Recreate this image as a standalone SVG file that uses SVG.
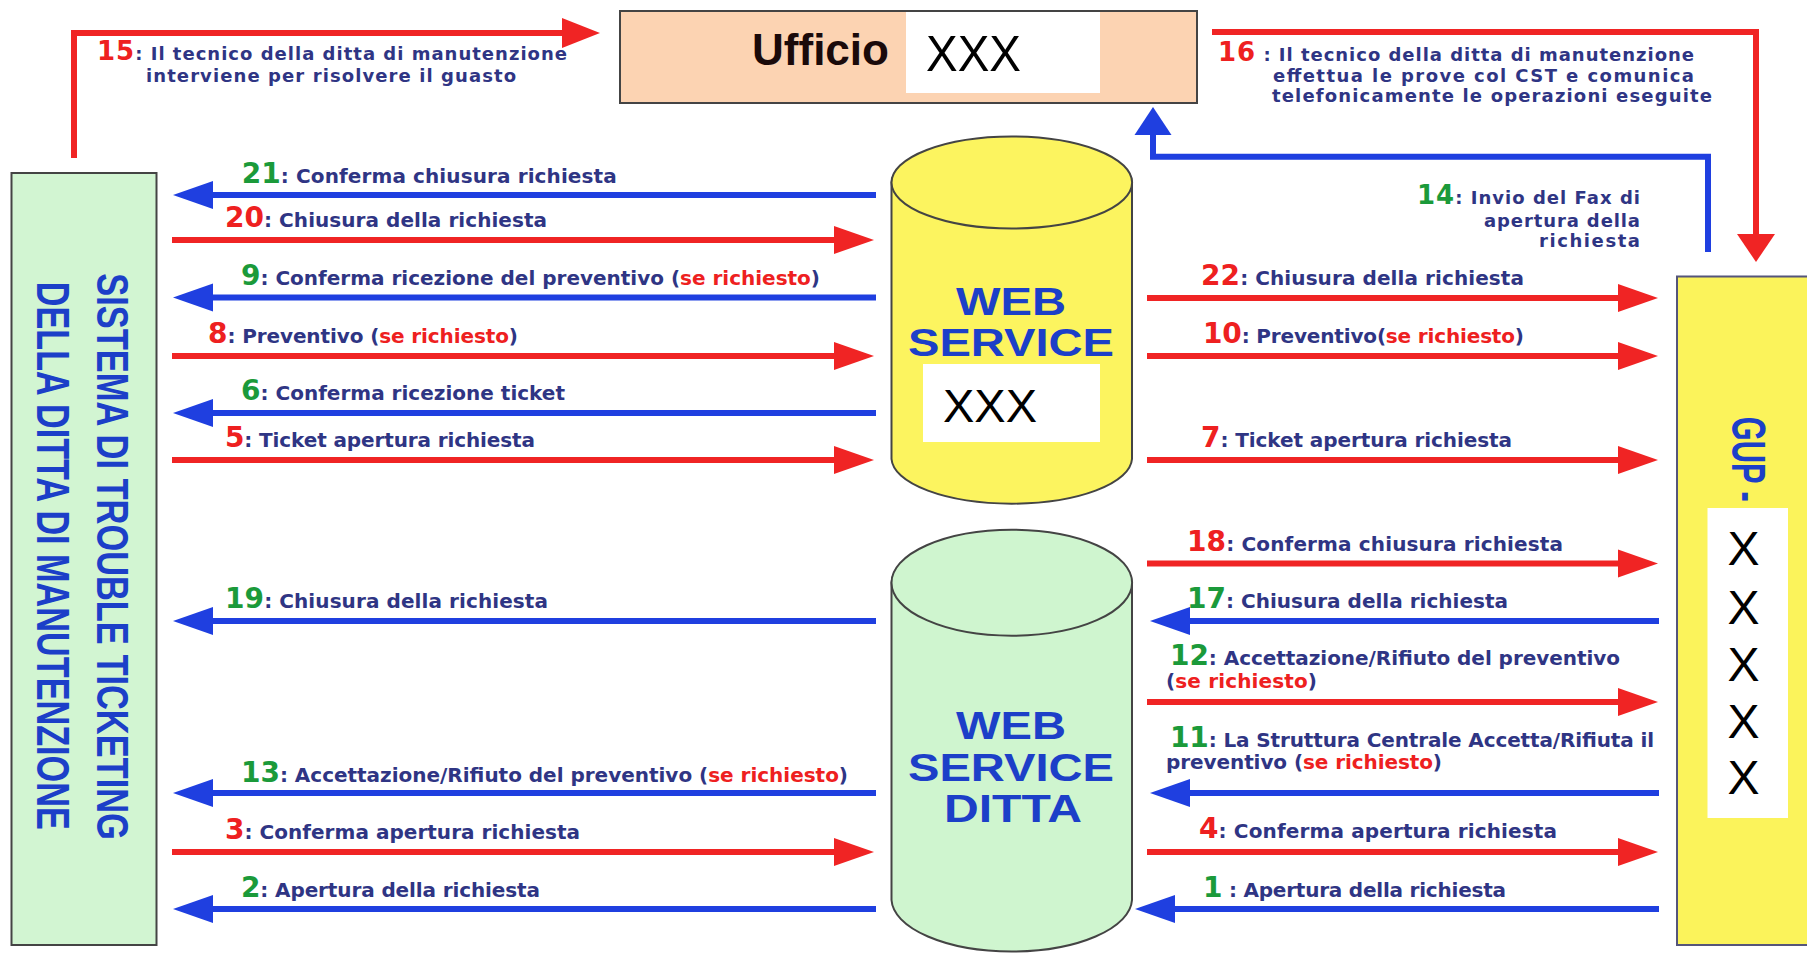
<svg xmlns="http://www.w3.org/2000/svg" width="1807" height="954" viewBox="0 0 1807 954">
<style>
.lbl{font-family:"DejaVu Sans",Verdana,sans-serif;font-weight:bold;font-size:20px;fill:#2f3584}
.sm{font-size:18px}
.nr{fill:#ee2020;font-size:28px}
.ng{fill:#1b9a3a;font-size:28px}
.n26{font-size:26px}
.sr{fill:#ee2020}
.ar{stroke:#f02424;stroke-width:6;fill:none}
.ab{stroke:#1f3fe0;stroke-width:6;fill:none}
.big{font-family:"Liberation Sans",Arial,sans-serif;font-weight:bold;fill:#1c3fc8}
.xxx{font-family:"Liberation Sans",Arial,sans-serif;fill:#000}
.box{stroke:#444;stroke-width:2}
</style>
<defs>
<marker id="hR" markerUnits="userSpaceOnUse" markerWidth="42" markerHeight="30" viewBox="0 -15 42 30" refX="1" refY="0" orient="auto"><path d="M0,-14 L40,0 L0,14 z" fill="#f02424"/></marker>
<marker id="hB" markerUnits="userSpaceOnUse" markerWidth="42" markerHeight="30" viewBox="0 -15 42 30" refX="1" refY="0" orient="auto"><path d="M0,-14 L40,0 L0,14 z" fill="#1f3fe0"/></marker>
<marker id="hR15" markerUnits="userSpaceOnUse" markerWidth="40" markerHeight="32" viewBox="0 -16 40 32" refX="1" refY="0" orient="auto"><path d="M0,-15 L38,0 L0,15 z" fill="#f02424"/></marker>
<marker id="hR16" markerUnits="userSpaceOnUse" markerWidth="30" markerHeight="40" viewBox="0 -20 30 40" refX="1" refY="0" orient="auto"><path d="M0,-19 L28,0 L0,19 z" fill="#f02424"/></marker>
<marker id="hB14" markerUnits="userSpaceOnUse" markerWidth="30" markerHeight="40" viewBox="0 -20 30 40" refX="1" refY="0" orient="auto"><path d="M0,-18.5 L28,0 L0,18.5 z" fill="#1f3fe0"/></marker>
</defs>
<rect width="1807" height="954" fill="#ffffff"/>

<g id="node-sistema">
<rect class="box" x="11.5" y="173" width="145" height="772" fill="#d2f5d2"/>
<text class="big" font-size="45" transform="translate(96.7,273.3) rotate(90) scale(0.765,1)">SISTEMA DI TROUBLE TICKETING</text>
<text class="big" font-size="46" transform="translate(36.7,281.7) rotate(90) scale(0.744,1)">DELLA DITTA DI MANUTENZIONE</text>
</g>

<g id="node-ufficio">
<rect class="box" x="620" y="11" width="577" height="92" fill="#fcd3b2"/>
<text x="752" y="65" font-family="Liberation Sans,Arial,sans-serif" font-weight="bold" font-size="45" fill="#1a0a0a" textLength="137" lengthAdjust="spacingAndGlyphs">Ufficio</text>
<rect x="906" y="12" width="194" height="81" fill="#ffffff"/>
<text class="xxx" x="926" y="71" font-size="50" textLength="95" lengthAdjust="spacingAndGlyphs">XXX</text>
</g>

<g id="node-webservice">
<path d="M891.5,182.5 L891.5,459 A120.3,46 0 0 0 1132,459 L1132,182.5 A120.3,46 0 0 0 891.5,182.5 z" fill="#fcf45f" stroke="#444" stroke-width="2"/>
<ellipse cx="1011.8" cy="182.5" rx="120.3" ry="46" fill="#fcf45f" stroke="#444" stroke-width="2"/>
<text class="big" x="1011" y="315" font-size="38" text-anchor="middle" textLength="110" lengthAdjust="spacingAndGlyphs">WEB</text>
<text class="big" x="1011" y="356" font-size="38" text-anchor="middle" textLength="206" lengthAdjust="spacingAndGlyphs">SERVICE</text>
<rect x="923" y="364" width="177" height="78" fill="#ffffff"/>
<text class="xxx" x="943" y="422" font-size="47" textLength="94" lengthAdjust="spacingAndGlyphs">XXX</text>
</g>

<g id="node-webservice-ditta">
<path d="M891.5,582.7 L891.5,900 A120.3,53 0 0 0 1132,900 L1132,582.7 A120.3,53 0 0 0 891.5,582.7 z" fill="#cff5cf" stroke="#444" stroke-width="2"/>
<ellipse cx="1011.8" cy="582.7" rx="120.3" ry="53" fill="#cff5cf" stroke="#444" stroke-width="2"/>
<text class="big" x="1011" y="739" font-size="38" text-anchor="middle" textLength="110" lengthAdjust="spacingAndGlyphs">WEB</text>
<text class="big" x="1011" y="781" font-size="38" text-anchor="middle" textLength="206" lengthAdjust="spacingAndGlyphs">SERVICE</text>
<text class="big" x="1013" y="822" font-size="38" text-anchor="middle" textLength="138" lengthAdjust="spacingAndGlyphs">DITTA</text>
</g>

<g id="node-gup">
<rect x="1677" y="276.5" width="140" height="668.5" fill="#fbf35b" stroke="#55557a" stroke-width="2"/>
<text class="big" font-size="49" transform="translate(1731.7,416.7) rotate(90) scale(0.63,1)">GUP -</text>
<rect x="1707.5" y="508" width="80.5" height="310" fill="#ffffff"/>
<g class="xxx" font-size="48">
<text x="1727.5" y="565">X</text>
<text x="1727.5" y="623.5">X</text>
<text x="1727.5" y="680.5">X</text>
<text x="1727.5" y="738">X</text>
<text x="1727.5" y="794">X</text>
</g>
</g>

<g id="connectors">
<path class="ar" d="M74,158 V33 H563" marker-end="url(#hR15)"/>
<path class="ar" d="M1212,32 H1756 V235" marker-end="url(#hR16)"/>
<path class="ab" d="M1708,252 V156.7 H1153 V134" stroke-linejoin="miter" marker-end="url(#hB14)"/>
<line class="ab" x1="876" y1="195" x2="212" y2="195" marker-end="url(#hB)"/>
<line class="ar" x1="172" y1="240" x2="835" y2="240" marker-end="url(#hR)"/>
<line class="ab" x1="876" y1="297.5" x2="212" y2="297.5" marker-end="url(#hB)"/>
<line class="ar" x1="172" y1="356" x2="835" y2="356" marker-end="url(#hR)"/>
<line class="ab" x1="876" y1="413" x2="212" y2="413" marker-end="url(#hB)"/>
<line class="ar" x1="172" y1="460" x2="835" y2="460" marker-end="url(#hR)"/>
<line class="ab" x1="876" y1="621" x2="212" y2="621" marker-end="url(#hB)"/>
<line class="ab" x1="876" y1="793" x2="212" y2="793" marker-end="url(#hB)"/>
<line class="ar" x1="172" y1="852" x2="835" y2="852" marker-end="url(#hR)"/>
<line class="ab" x1="876" y1="909" x2="212" y2="909" marker-end="url(#hB)"/>
<line class="ar" x1="1147" y1="298" x2="1619" y2="298" marker-end="url(#hR)"/>
<line class="ar" x1="1147" y1="356" x2="1619" y2="356" marker-end="url(#hR)"/>
<line class="ar" x1="1147" y1="460" x2="1619" y2="460" marker-end="url(#hR)"/>
<line class="ar" x1="1147" y1="563.5" x2="1619" y2="563.5" marker-end="url(#hR)"/>
<line class="ab" x1="1659" y1="621" x2="1189" y2="621" marker-end="url(#hB)"/>
<line class="ar" x1="1147" y1="702" x2="1619" y2="702" marker-end="url(#hR)"/>
<line class="ab" x1="1659" y1="793" x2="1189" y2="793" marker-end="url(#hB)"/>
<line class="ar" x1="1147" y1="852" x2="1619" y2="852" marker-end="url(#hR)"/>
<line class="ab" x1="1659" y1="909" x2="1174" y2="909" marker-end="url(#hB)"/>
</g>

<g id="labels">
<text class="lbl sm" x="97" y="60" textLength="470"><tspan class="nr n26">15</tspan>: Il tecnico della ditta di manutenzione</text>
<text class="lbl sm" x="146" y="82" textLength="370">interviene per risolvere il guasto</text>
<text class="lbl sm" x="1218" y="60.7" textLength="476"><tspan class="nr n26">16</tspan> : Il tecnico della ditta di manutenzione</text>
<text class="lbl sm" x="1273" y="81.7" textLength="421">effettua le prove col CST e comunica</text>
<text class="lbl sm" x="1272" y="101.7" textLength="440">telefonicamente le operazioni eseguite</text>
<text class="lbl sm" x="1640" y="203.5" text-anchor="end" textLength="223"><tspan class="ng n26">14</tspan>: Invio del Fax di</text>
<text class="lbl sm" x="1640" y="226.7" text-anchor="end" textLength="156">apertura della</text>
<text class="lbl sm" x="1640" y="247" text-anchor="end" textLength="101">richiesta</text>

<text class="lbl" x="241.7" y="182.5" textLength="375"><tspan class="ng">21</tspan>: Conferma chiusura richiesta</text>
<text class="lbl" x="225" y="226.7" textLength="322"><tspan class="nr">20</tspan>: Chiusura della richiesta</text>
<text class="lbl" x="241" y="285" textLength="579"><tspan class="ng">9</tspan>: Conferma ricezione del preventivo (<tspan class="sr">se richiesto</tspan>)</text>
<text class="lbl" x="208" y="342.7" textLength="310"><tspan class="nr">8</tspan>: Preventivo (<tspan class="sr">se richiesto</tspan>)</text>
<text class="lbl" x="241" y="400" textLength="324"><tspan class="ng">6</tspan>: Conferma ricezione ticket</text>
<text class="lbl" x="225" y="446.7" textLength="310"><tspan class="nr">5</tspan>: Ticket apertura richiesta</text>
<text class="lbl" x="225" y="607.7" textLength="323"><tspan class="ng">19</tspan>: Chiusura della richiesta</text>
<text class="lbl" x="241" y="781.7" textLength="607"><tspan class="ng">13</tspan>: Accettazione/Rifiuto del preventivo (<tspan class="sr">se richiesto</tspan>)</text>
<text class="lbl" x="225" y="839" textLength="355"><tspan class="nr">3</tspan>: Conferma apertura richiesta</text>
<text class="lbl" x="241" y="896.7" textLength="299"><tspan class="ng">2</tspan>: Apertura della richiesta</text>

<text class="lbl" x="1201" y="285" textLength="323"><tspan class="nr">22</tspan>: Chiusura della richiesta</text>
<text class="lbl" x="1203" y="342.7" textLength="321"><tspan class="nr">10</tspan>: Preventivo(<tspan class="sr">se richiesto</tspan>)</text>
<text class="lbl" x="1201" y="446.7" textLength="311"><tspan class="nr">7</tspan>: Ticket apertura richiesta</text>
<text class="lbl" x="1187" y="550.7" textLength="376"><tspan class="nr">18</tspan>: Conferma chiusura richiesta</text>
<text class="lbl" x="1187" y="607.7" textLength="321"><tspan class="ng">17</tspan>: Chiusura della richiesta</text>
<text class="lbl" x="1170" y="665" textLength="450"><tspan class="ng">12</tspan>: Accettazione/Rifiuto del preventivo</text>
<text class="lbl" x="1166" y="688.3" textLength="151">(<tspan class="sr">se richiesto</tspan>)</text>
<text class="lbl" x="1170" y="746.7" textLength="484"><tspan class="ng">11</tspan>: La Struttura Centrale Accetta/Rifiuta il</text>
<text class="lbl" x="1166" y="769.3" textLength="276">preventivo (<tspan class="sr">se richiesto</tspan>)</text>
<text class="lbl" x="1199" y="838.3" textLength="358"><tspan class="nr">4</tspan>: Conferma apertura richiesta</text>
<text class="lbl" x="1203" y="896.7" textLength="303"><tspan class="ng">1</tspan> : Apertura della richiesta</text>
</g>
</svg>
